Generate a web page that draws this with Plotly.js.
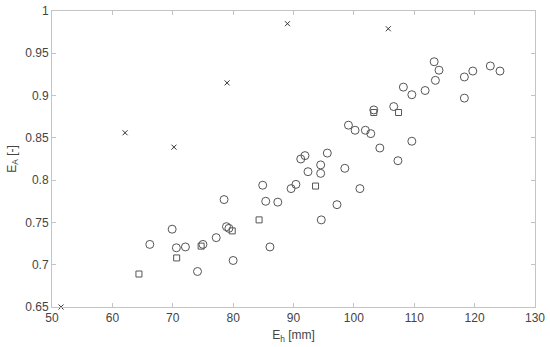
<!DOCTYPE html>
<html>
<head>
<meta charset="utf-8">
<script src="https://cdn.plot.ly/plotly-3.0.1.min.js"></script>
<style>html,body{margin:0;padding:0;background:#fff;}#chart{width:550px;height:347px;}</style>
</head>
<body>
<div id="chart"></div>
<script>
// Circles
var circleX = [66.2, 69.9, 70.6, 72.1, 74.1, 75.0, 77.2, 78.5, 78.9, 79.3, 80.0, 84.9, 85.4, 86.1, 87.4,
  89.6, 90.4, 92.4, 94.5, 94.6, 97.2, 101.0, 91.2, 91.9, 95.6, 94.5, 98.5,
  99.1, 100.2, 101.9, 102.8, 104.3, 109.6, 107.3, 103.3, 106.6,
  108.2, 109.6, 111.8, 113.3, 114.1, 113.5, 118.3, 119.7, 122.6, 124.2, 118.3];
var circleY = [0.724, 0.742, 0.720, 0.721, 0.692, 0.724, 0.732, 0.777, 0.745, 0.743, 0.705, 0.794, 0.775, 0.721, 0.774,
  0.790, 0.795, 0.810, 0.808, 0.753, 0.771, 0.790, 0.825, 0.829, 0.832, 0.818, 0.814,
  0.865, 0.859, 0.859, 0.855, 0.838, 0.846, 0.823, 0.883, 0.887,
  0.910, 0.901, 0.906, 0.940, 0.930, 0.918, 0.922, 0.929, 0.935, 0.929, 0.897];
// Squares
var squareX = [64.4, 70.65, 74.7, 79.85, 84.3, 93.65, 103.3, 107.4];
var squareY = [0.689, 0.708, 0.722, 0.740, 0.753, 0.793, 0.880, 0.880];
// Crosses
var crossX = [51.5, 62.1, 70.2, 79.0, 89.0, 105.7];
var crossY = [0.650, 0.856, 0.839, 0.915, 0.985, 0.979];

var mc = '#555555';
var traces = [
  {x: circleX, y: circleY, type: 'scatter', mode: 'markers', hoverinfo: 'none', cliponaxis: false,
   marker: {symbol: 'circle-open', size: 8, color: mc, line: {width: 1, color: mc}}},
  {x: squareX, y: squareY, type: 'scatter', mode: 'markers', hoverinfo: 'none', cliponaxis: false,
   marker: {symbol: 'square-open', size: 6, color: mc, line: {width: 1, color: mc}}},
  {x: crossX, y: crossY, type: 'scatter', mode: 'markers', hoverinfo: 'none', cliponaxis: false,
   marker: {symbol: 'x-thin-open', size: 5, color: '#333', line: {width: 1, color: '#333'}}}
];

var axCommon = {
  showline: true, linecolor: '#c4c4c4', linewidth: 1, mirror: 'ticks',
  ticks: 'inside', ticklen: 4, tickcolor: '#c4c4c4', tickwidth: 1,
  showgrid: false, zeroline: false,
  tickfont: {family: 'Liberation Sans, Arial, sans-serif', size: 12, color: '#444'}
};

var layout = {
  width: 550, height: 347,
  margin: {l: 52, r: 15, t: 11, b: 40},
  paper_bgcolor: '#fff', plot_bgcolor: '#fff',
  showlegend: false,
  font: {family: 'Liberation Sans, Arial, sans-serif', color: '#444'},
  xaxis: Object.assign({}, axCommon, {
    range: [50, 130], tickvals: [50, 60, 70, 80, 90, 100, 110, 120, 130],
    title: {text: 'E<sub>h</sub> [mm]', font: {size: 12, color: '#444'}, standoff: 6}
  }),
  yaxis: Object.assign({}, axCommon, {
    range: [0.65, 1], tickvals: [0.65, 0.7, 0.75, 0.8, 0.85, 0.9, 0.95, 1],
    ticktext: ['0.65', '0.7', '0.75', '0.8', '0.85', '0.9', '0.95', '1'],
    title: {text: 'E<sub>A</sub> [-]', font: {size: 12, color: '#444'}, standoff: 6}
  })
};

Plotly.newPlot('chart', traces, layout, {staticPlot: true, displayModeBar: false});
</script>
</body>
</html>
